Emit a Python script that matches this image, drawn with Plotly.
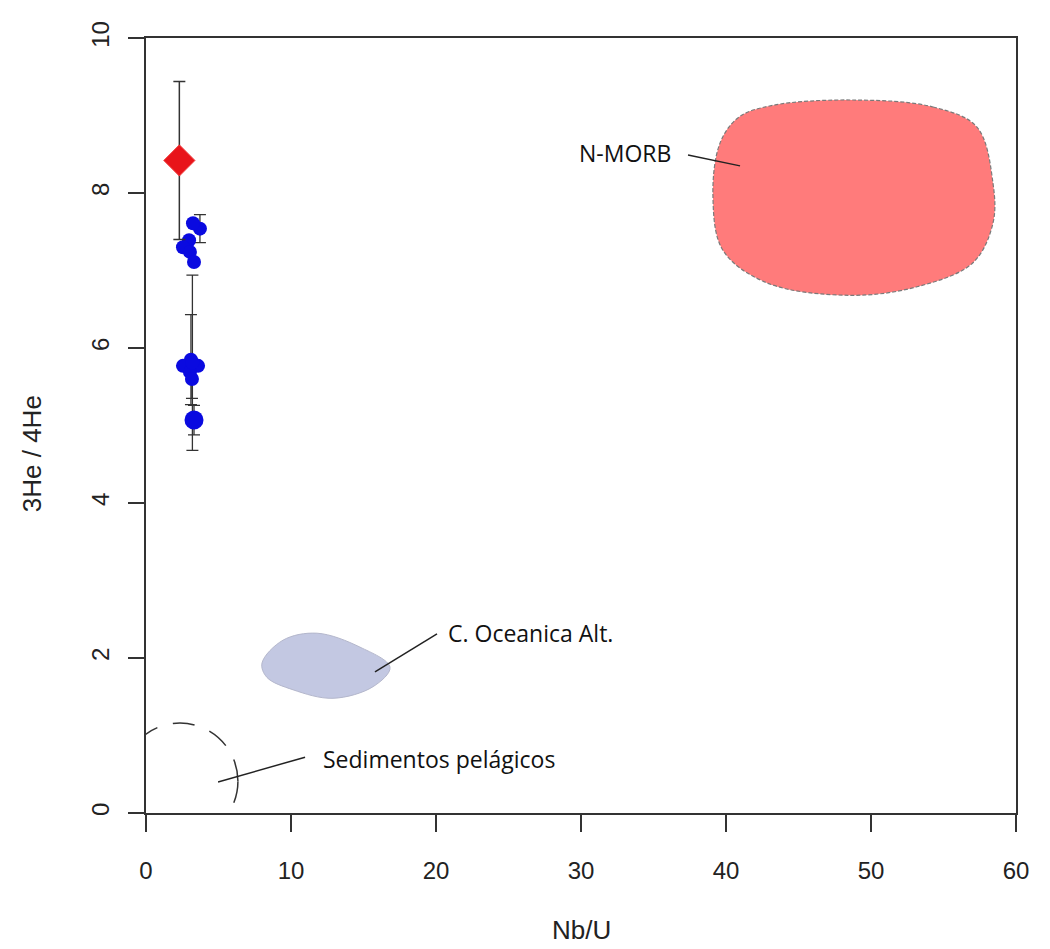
import plotly.graph_objects as go

# Samples: Nb/U vs 3He/4He
red_x = [2.3]
red_y = [8.42]
red_err = [1.02]

blue_x = [3.72, 3.24, 2.97, 2.55, 3.03, 3.31,
          3.10, 2.55, 3.59, 3.03, 3.17, 3.20, 3.31]
blue_y = [7.54, 7.61, 7.39, 7.30, 7.24, 7.11,
          5.85, 5.77, 5.77, 5.69, 5.60, 5.81, 5.07]
blue_err = [0.18, 0.0, 0.0, 0.0, 0.0, 0.0,
            0.58, 0.0, 0.0, 0.0, 0.25, 1.13, 0.19]
blue_size = [14, 14, 14, 14, 14, 14,
             14, 14, 14, 14, 14, 14, 19]

# Reference fields (outline vertices)
morb_x = [48.76, 54.28, 57.31, 58.41, 58.41, 57.03, 53.17, 48.55,
          42.83, 39.79, 39.10, 39.60, 40.90, 43.20, 48.76]
morb_y = [9.20, 9.11, 8.85, 8.13, 7.61, 7.10, 6.79, 6.68,
          6.84, 7.26, 7.95, 8.65, 8.98, 9.13, 9.20]

oc_x = [11.79, 14.76, 16.83, 15.66, 12.90, 10.14, 8.34, 8.00, 9.45, 11.79]
oc_y = [2.32, 2.14, 1.88, 1.63, 1.48, 1.59, 1.75, 1.935, 2.23, 2.32]

sed_center = (2.34, 0.41)
sed_radius = (4.0, 0.75)

x_ticks = [0, 10, 20, 30, 40, 50, 60]
y_ticks = [0, 2, 4, 6, 8, 10]

fig = go.Figure()

fig.add_trace(go.Scatter(
    x=morb_x, y=morb_y, mode="lines", line_shape="spline",
    fill="toself", fillcolor="#ff7b7b",
    line=dict(color="#7a7a7a", width=1.2, dash="4px,2px"),
    hoverinfo="skip", showlegend=False))

fig.add_trace(go.Scatter(
    x=oc_x, y=oc_y, mode="lines", line_shape="spline",
    fill="toself", fillcolor="#c3c8e2",
    line=dict(color="#b4b7cc", width=1),
    hoverinfo="skip", showlegend=False))

fig.add_trace(go.Scatter(
    x=blue_x, y=blue_y, mode="markers",
    marker=dict(symbol="circle", size=blue_size, color="#0a0ae0",
                opacity=1, line=dict(width=0)),
    error_y=dict(type="data", array=blue_err, visible=True,
                 color="#333333", thickness=1.3, width=6),
    showlegend=False))

fig.add_trace(go.Scatter(
    x=red_x, y=red_y, mode="markers",
    marker=dict(symbol="diamond", size=24, color="#e8141a", opacity=1,
                line=dict(color="#f04040", width=1)),
    error_y=dict(type="data", array=red_err, visible=True,
                 color="#333333", thickness=1.5, width=6),
    showlegend=False))

# Pelagic sediment field (dashed circle)
cx, cy = sed_center
rx, ry = sed_radius
fig.add_shape(type="circle", xref="x", yref="y",
              x0=cx - rx, x1=cx + rx, y0=cy - ry, y1=cy + ry,
              line=dict(color="#333333", width=1.5, dash="22px,16px"))

# Leader lines
leaders = [
    ((37.38, 8.49), (40.97, 8.35)),
    ((15.79, 1.82), (20.07, 2.31)),
    ((4.97, 0.40), (10.97, 0.72)),
]
for (x0, y0), (x1, y1) in leaders:
    fig.add_shape(type="line", xref="x", yref="y",
                  x0=x0, y0=y0, x1=x1, y1=y1,
                  line=dict(color="#222222", width=1.5))

label_font = dict(family="Open Sans", size=23, color="#111111")
fig.add_annotation(x=36.34, y=8.51, xref="x", yref="y", text="N-MORB",
                   showarrow=False, xanchor="right", yanchor="middle",
                   font=label_font)
fig.add_annotation(x=20.70, y=2.32, xref="x", yref="y",
                   text="C. Oceanica Alt.", showarrow=False,
                   xanchor="left", yanchor="middle", font=label_font)
fig.add_annotation(x=12.05, y=0.70, xref="x", yref="y",
                   text="Sedimentos pelágicos", showarrow=False,
                   xanchor="left", yanchor="middle", font=label_font)

axis_font = dict(family="Liberation Sans", size=24, color="#222222")
fig.add_annotation(x=-0.131, y=4.63, xref="paper", yref="y",
                   text="3He / 4He", textangle=-90, showarrow=False,
                   xanchor="center", yanchor="middle",
                   font=dict(family="Liberation Sans", size=26, color="#222222"))
fig.add_annotation(x=0.5, y=-0.151, xref="paper", yref="paper",
                   text="Nb/U", showarrow=False,
                   xanchor="center", yanchor="middle",
                   font=dict(family="Liberation Sans", size=26, color="#222222"))

fig.update_xaxes(range=[0, 60], tickvals=x_ticks, ticktext=[str(v) for v in x_ticks],
                 showgrid=False, zeroline=False,
                 showline=True, mirror=True, linecolor="#333333", linewidth=1.8,
                 ticks="outside", ticklen=17, tickwidth=1.5, tickcolor="#333333",
                 tickfont=axis_font, ticklabelstandoff=18)
fig.update_yaxes(range=[0, 10], tickvals=y_ticks, ticktext=[str(v) for v in y_ticks],
                 showgrid=False, zeroline=False,
                 showline=True, mirror=True, linecolor="#333333", linewidth=1.8,
                 ticks="outside", ticklen=16, tickwidth=1.5, tickcolor="#333333",
                 tickfont=axis_font, tickangle=-90, ticklabelstandoff=10)

fig.update_layout(
    width=1050, height=949,
    margin=dict(l=146, r=34, t=38, b=136),
    paper_bgcolor="white", plot_bgcolor="white",
)

fig.write_html("out.html")
